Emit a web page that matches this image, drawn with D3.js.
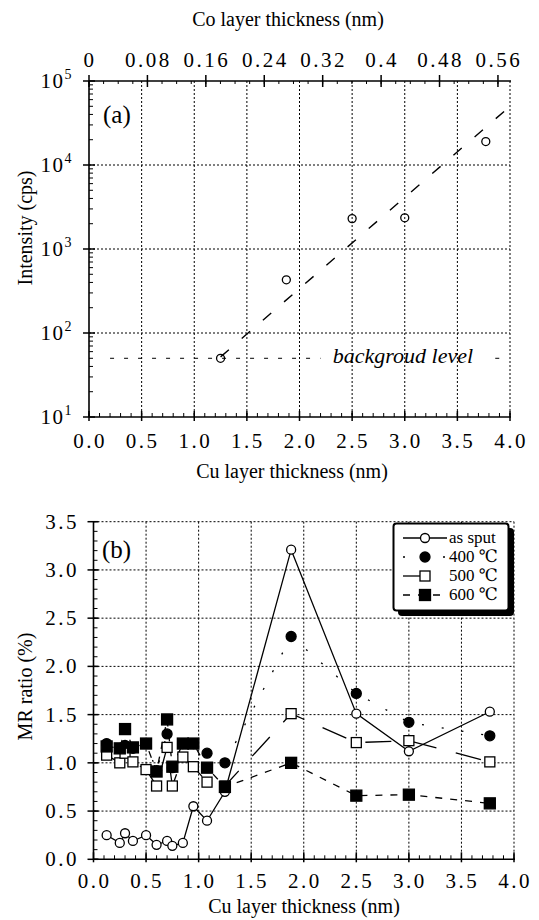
<!DOCTYPE html>
<html><head><meta charset="utf-8">
<script src="https://cdn.jsdelivr.net/npm/d3@7"></script>
<style>
body{margin:0;background:#fff}
svg{display:block}
svg text{font-family:"Liberation Serif","Times New Roman",Times,"DejaVu Serif","Noto Serif",serif;fill:#000}
</style>
</head><body>
<svg id="c" width="539" height="920"></svg>
<script>
// ---------- data ----------
const cuTicks = [0, 0.5, 1, 1.5, 2, 2.5, 3, 3.5, 4];
const cuTickLabels = ["0.0","0.5","1.0","1.5","2.0","2.5","3.0","3.5","4.0"];
const coTicks = [0, 0.08, 0.16, 0.24, 0.32, 0.4, 0.48, 0.56];
const coTickLabels = ["0","0.08","0.16","0.24","0.32","0.4","0.48","0.56"];
const intensityTicks = [1e1, 1e2, 1e3, 1e4, 1e5];
const intensityExp = ["1","2","3","4","5"];
const mrTicks = [0, 0.5, 1, 1.5, 2, 2.5, 3, 3.5];
const mrTickLabels = ["0.0","0.5","1.0","1.5","2.0","2.5","3.0","3.5"];

// panel (a)
const intensityCu = [1.25, 1.875, 2.5, 3.0, 3.77];
const intensityCps = [50, 430, 2300, 2350, 19000];
const fitCu = [1.25, 4.0];
const fitCps = [52, 50000];
const backgroundCps = 50;
const backgroundSpans = [[0.2, 2.2], [3.86, 3.96]];
const backgroundText = "backgroud level";

// panel (b)
const mrCu   = [0.125,0.25,0.3,0.375,0.5,0.6,0.7,0.75,0.85,0.95,1.08,1.25,1.88,2.5,3.0,3.77];
const asSput = [0.25,0.17,0.27,0.19,0.25,0.15,0.19,0.14,0.17,0.55,0.40,0.70,3.21,1.51,1.12,1.53];
const mr400  = [1.20,1.15,1.18,1.15,1.20,0.92,1.30,0.95,1.20,1.20,1.10,1.00,2.31,1.72,1.42,1.28];
const mr500  = [1.08,1.00,1.10,1.01,0.93,0.76,1.16,0.76,1.06,0.96,0.80,0.76,1.51,1.21,1.23,1.01];
const mr600  = [1.17,1.15,1.35,1.16,1.20,0.91,1.45,0.96,1.20,1.20,0.95,0.75,1.00,0.66,0.67,0.58];
const legendLabels = ["as sput", "400 \u2103", "500 \u2103", "600 \u2103"];

// ---------- drawing ----------
const svg = d3.select("#c");
const FS = 20, TFS = 21, LS = "2.5px";

// ===== Panel (a) =====
const xA = d3.scaleLinear().domain([0, 4]).range([89, 510]);
const xCo = d3.scaleLinear().domain([0, 0.5765]).range([89, 510]);
const yA = d3.scaleLog().domain([10, 1e5]).range([417, 81]);
const gA = svg.append("g");

// grid
gA.selectAll(".vg").data(cuTicks.filter(d => d > 0)).join("line")
  .attr("x1", d => xA(d)).attr("x2", d => xA(d)).attr("y1", yA(1e5)).attr("y2", yA(10))
  .attr("stroke", "#000").attr("stroke-width", 1).attr("stroke-dasharray", "2,2");
gA.selectAll(".hg").data(intensityTicks.filter(d => d > 10 && d < 1e5)).join("line")
  .attr("x1", xA(0)).attr("x2", xA(4)).attr("y1", d => yA(d)).attr("y2", d => yA(d))
  .attr("stroke", "#000").attr("stroke-width", 1).attr("stroke-dasharray", "2,2");

// axes lines
gA.append("line").attr("x1", xA(0)).attr("x2", xA(4) + 1).attr("y1", yA(1e5)).attr("y2", yA(1e5)).attr("stroke", "#000").attr("stroke-width", 1.6);
gA.append("line").attr("x1", xA(0)).attr("x2", xA(0)).attr("y1", yA(1e5)).attr("y2", yA(10)).attr("stroke", "#000").attr("stroke-width", 1.6);
gA.append("line").attr("x1", xA(0)).attr("x2", xA(4) + 1).attr("y1", yA(10)).attr("y2", yA(10)).attr("stroke", "#000").attr("stroke-width", 1.6);

// top axis (Co)
gA.selectAll(".cot").data(coTicks).join("line")
  .attr("x1", d => xCo(d)).attr("x2", d => xCo(d)).attr("y1", yA(1e5) - 6).attr("y2", yA(1e5) + 6)
  .attr("stroke", "#000").attr("stroke-width", 1.5);
gA.selectAll(".com").data(d3.range(0, 0.5765, 0.02)).join("line")
  .attr("x1", d => xCo(d)).attr("x2", d => xCo(d)).attr("y1", yA(1e5)).attr("y2", yA(1e5) + 3)
  .attr("stroke", "#000").attr("stroke-width", 1);
gA.selectAll(".col").data(coTicks).join("text")
  .attr("x", d => xCo(d) + 1).attr("y", 67).attr("text-anchor", "middle")
  .attr("font-size", TFS).style("letter-spacing", LS).text((d, i) => coTickLabels[i]);
gA.append("text").attr("x", 288).attr("y", 26).attr("text-anchor", "middle").attr("font-size", FS)
  .text("Co layer thickness (nm)");

// left axis (log)
gA.selectAll(".yt").data(intensityTicks).join("line")
  .attr("x1", xA(0) - 6).attr("x2", xA(0) + 6).attr("y1", d => yA(d)).attr("y2", d => yA(d))
  .attr("stroke", "#000").attr("stroke-width", 1.5);
const minorLog = [];
intensityTicks.slice(0, -1).forEach(d => { for (let k = 2; k <= 9; k++) minorLog.push(d * k); });
gA.selectAll(".ym").data(minorLog).join("line")
  .attr("x1", xA(0)).attr("x2", xA(0) + 4).attr("y1", d => yA(d)).attr("y2", d => yA(d))
  .attr("stroke", "#000").attr("stroke-width", 1);
const yl = gA.selectAll(".yl").data(intensityTicks).join("text")
  .attr("x", 73).attr("y", d => yA(d) + 7).attr("text-anchor", "end").attr("font-size", TFS)
  .style("letter-spacing", "1.5px");
yl.append("tspan").text("10");
yl.append("tspan").attr("dy", -9).attr("font-size", 14).text((d, i) => intensityExp[i]);
gA.append("text").attr("transform", `translate(32,${(yA(1e5) + yA(10)) / 2 - 21}) rotate(-90)`)
  .attr("text-anchor", "middle").attr("font-size", FS).text("Intensity (cps)");

// bottom axis
gA.selectAll(".xt").data(cuTicks).join("line")
  .attr("x1", d => xA(d)).attr("x2", d => xA(d)).attr("y1", yA(10) - 6).attr("y2", yA(10) + 4)
  .attr("stroke", "#000").attr("stroke-width", 1.5);
gA.selectAll(".xm").data(d3.range(0, 4.001, 0.1)).join("line")
  .attr("x1", d => xA(d)).attr("x2", d => xA(d)).attr("y1", yA(10) - 4).attr("y2", yA(10))
  .attr("stroke", "#000").attr("stroke-width", 1);
gA.selectAll(".xl").data(cuTicks).join("text")
  .attr("x", d => xA(d) + 1).attr("y", 448).attr("text-anchor", "middle").attr("font-size", TFS)
  .style("letter-spacing", LS).text((d, i) => cuTickLabels[i]);
gA.append("text").attr("x", 292).attr("y", 478).attr("text-anchor", "middle").attr("font-size", FS)
  .text("Cu layer thickness (nm)");

// background level line
backgroundSpans.forEach(s => {
  gA.append("line").attr("x1", xA(s[0])).attr("x2", xA(s[1]))
    .attr("y1", yA(backgroundCps)).attr("y2", yA(backgroundCps))
    .attr("stroke", "#000").attr("stroke-width", 1).attr("stroke-dasharray", "4,10");
});
gA.append("text").attr("x", 403).attr("y", yA(backgroundCps) + 5).attr("text-anchor", "middle")
  .attr("font-size", 22).attr("font-style", "italic").text(backgroundText);

// fit line
gA.append("path")
  .attr("d", d3.line().x(d => xA(d[0])).y(d => yA(d[1]))(fitCu.map((c, i) => [c, fitCps[i]])))
  .attr("fill", "none").attr("stroke", "#000").attr("stroke-width", 1.4).attr("stroke-dasharray", "11,17");

// data points
gA.selectAll(".pt").data(intensityCu).join("circle")
  .attr("cx", d => xA(d)).attr("cy", (d, i) => yA(intensityCps[i])).attr("r", 4)
  .attr("fill", "none").attr("stroke", "#000").attr("stroke-width", 1.3);
gA.append("text").attr("x", 103).attr("y", 123).attr("font-size", 25).text("(a)");

// ===== Panel (b) =====
const xB = d3.scaleLinear().domain([0, 4]).range([93.5, 514]);
const yB = d3.scaleLinear().domain([0, 3.5]).range([859.3, 521.7]);
const gB = svg.append("g");

gB.selectAll(".vg").data(cuTicks.filter(d => d > 0)).join("line")
  .attr("x1", d => xB(d)).attr("x2", d => xB(d)).attr("y1", yB(3.5)).attr("y2", yB(0))
  .attr("stroke", "#000").attr("stroke-width", 1).attr("stroke-dasharray", "2,2");
gB.selectAll(".hg").data(mrTicks.filter(d => d > 0)).join("line")
  .attr("x1", xB(0)).attr("x2", xB(4)).attr("y1", d => yB(d)).attr("y2", d => yB(d))
  .attr("stroke", "#000").attr("stroke-width", 1).attr("stroke-dasharray", "2,2");

gB.append("line").attr("x1", xB(0)).attr("x2", xB(0)).attr("y1", yB(3.5)).attr("y2", yB(0)).attr("stroke", "#000").attr("stroke-width", 1.6);
gB.append("line").attr("x1", xB(0)).attr("x2", xB(4) + 1).attr("y1", yB(0)).attr("y2", yB(0)).attr("stroke", "#000").attr("stroke-width", 1.6);

gB.selectAll(".yt").data(mrTicks).join("line")
  .attr("x1", xB(0) - 6).attr("x2", xB(0) + 5).attr("y1", d => yB(d)).attr("y2", d => yB(d))
  .attr("stroke", "#000").attr("stroke-width", 1.5);
gB.selectAll(".ym").data(d3.range(0, 3.501, 0.1)).join("line")
  .attr("x1", xB(0)).attr("x2", xB(0) + 4).attr("y1", d => yB(d)).attr("y2", d => yB(d))
  .attr("stroke", "#000").attr("stroke-width", 1);
gB.selectAll(".yl").data(mrTicks).join("text")
  .attr("x", 79).attr("y", d => yB(d) + 7).attr("text-anchor", "end").attr("font-size", TFS)
  .style("letter-spacing", LS).text((d, i) => mrTickLabels[i]);
gB.append("text").attr("transform", `translate(32,${(yB(3.5) + yB(0)) / 2 - 4}) rotate(-90)`)
  .attr("text-anchor", "middle").attr("font-size", FS).text("MR ratio (%)");

gB.selectAll(".xt").data(cuTicks).join("line")
  .attr("x1", d => xB(d)).attr("x2", d => xB(d)).attr("y1", yB(0) - 7).attr("y2", yB(0) + 3)
  .attr("stroke", "#000").attr("stroke-width", 1.5);
gB.selectAll(".xm").data(d3.range(0, 4.001, 0.1)).join("line")
  .attr("x1", d => xB(d)).attr("x2", d => xB(d)).attr("y1", yB(0) - 4).attr("y2", yB(0))
  .attr("stroke", "#000").attr("stroke-width", 1);
gB.selectAll(".xl").data(cuTicks).join("text")
  .attr("x", d => xB(d) + 1).attr("y", 888).attr("text-anchor", "middle").attr("font-size", TFS)
  .style("letter-spacing", LS).text((d, i) => cuTickLabels[i]);
gB.append("text").attr("x", 304).attr("y", 913).attr("text-anchor", "middle").attr("font-size", FS)
  .text("Cu layer thickness (nm)");

// series
const series = [
  { vals: asSput, dash: null,    marker: "circle", filled: false },
  { vals: mr400,  dash: "2,18",  marker: "circle", filled: true },
  { vals: mr500,  dash: "26,20", marker: "square", filled: false },
  { vals: mr600,  dash: "7,8",   marker: "square", filled: true }
];
const line = d3.line().x(d => xB(d[0])).y(d => yB(d[1]));
series.forEach(s => {
  gB.append("path").attr("d", line(mrCu.map((c, i) => [c, s.vals[i]])))
    .attr("fill", "none").attr("stroke", "#000").attr("stroke-width", 1.3)
    .attr("stroke-dasharray", s.dash);
});
function drawMarker(g, s, cx, cy) {
  if (s.marker === "circle") {
    g.append("circle").attr("cx", cx).attr("cy", cy).attr("r", s.filled ? 5 : 4.5)
      .attr("fill", s.filled ? "#000" : "#fff").attr("stroke", "#000").attr("stroke-width", 1.3);
  } else {
    const h = s.filled ? 5.5 : 5;
    g.append("rect").attr("x", cx - h).attr("y", cy - h).attr("width", 2 * h).attr("height", 2 * h)
      .attr("fill", s.filled ? "#000" : "#fff").attr("stroke", "#000").attr("stroke-width", 1.3);
  }
}
series.forEach(s => {
  mrCu.forEach((c, i) => drawMarker(gB, s, xB(c), yB(s.vals[i])));
});

gB.append("text").attr("x", 102).attr("y", 558).attr("font-size", 25).text("(b)");

// legend
const lg = gB.append("g");
lg.append("rect").attr("x", 398).attr("y", 528).attr("width", 116).attr("height", 88).attr("rx", 4).attr("fill", "#000");
lg.append("rect").attr("x", 393.5).attr("y", 523.5).attr("width", 115).attr("height", 87).attr("rx", 3)
  .attr("fill", "#fff").attr("stroke", "#000").attr("stroke-width", 2);
legendLabels.forEach((lab, i) => {
  const y = 538 + i * 19;
  lg.append("line").attr("x1", 403).attr("x2", 447).attr("y1", y).attr("y2", y)
    .attr("stroke", "#000").attr("stroke-width", 1.3).attr("stroke-dasharray", series[i].dash);
  drawMarker(lg, series[i], 425, y);
  lg.append("text").attr("x", 449).attr("y", y + 5).attr("font-size", 17).text(lab);
});
</script>
</body></html>
